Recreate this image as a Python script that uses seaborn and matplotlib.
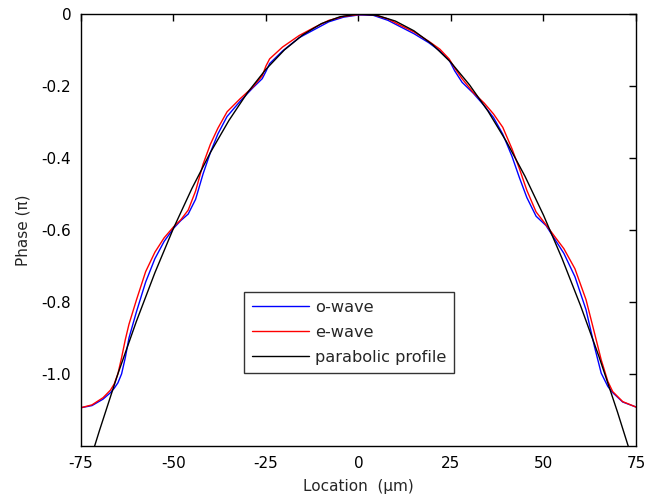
import numpy as np
import pandas as pd
import matplotlib
matplotlib.use("Agg")
import matplotlib.pyplot as plt
import seaborn as sns

# ------------------ Daten ------------------
location = [-75, -72, -69, -67, -66, -65, -64, -63, -62, -60, -57.5, -55, -52.5, -50, -48,
            -46, -44, -43, -42, -40, -38, -35.5, -32, -28.5, -26, -25, -24, -20.5, -16, -12, -8,
            -4, 0, 4, 8, 11, 15, 19, 22, 24.5, 26, 28, 31, 34, 36.5, 39, 41.5, 43.5, 45.5,
            48, 50.7, 53, 55.5, 58.5, 61.5, 63.8, 65.6, 67.4, 68.7, 71.4, 75]

o_wave = [-1.094, -1.088, -1.070, -1.052, -1.040, -1.025, -1.000, -0.955, -0.900, -0.828,
          -0.745, -0.680, -0.632, -0.596, -0.574, -0.556, -0.515, -0.480, -0.445, -0.385, -0.334,
          -0.285, -0.243, -0.205, -0.180, -0.160, -0.138, -0.103, -0.066, -0.044, -0.022,
          -0.009, -0.003, -0.004, -0.018, -0.034, -0.055, -0.080, -0.103, -0.128, -0.158,
          -0.190, -0.220, -0.255, -0.288, -0.334, -0.396, -0.455, -0.510, -0.562, -0.588,
          -0.625, -0.665, -0.730, -0.822, -0.925, -0.998, -1.035, -1.052, -1.078, -1.092]

e_wave = [-1.094, -1.086, -1.066, -1.045, -1.028, -1.000, -0.955, -0.905, -0.862, -0.795,
          -0.716, -0.662, -0.622, -0.592, -0.572, -0.545, -0.492, -0.455, -0.418, -0.362, -0.318,
          -0.272, -0.236, -0.203, -0.172, -0.145, -0.125, -0.092, -0.060, -0.038, -0.018,
          -0.007, -0.002, -0.002, -0.014, -0.030, -0.050, -0.076, -0.098, -0.125, -0.150,
          -0.180, -0.218, -0.248, -0.278, -0.315, -0.375, -0.430, -0.490, -0.550, -0.586,
          -0.618, -0.652, -0.708, -0.794, -0.887, -0.961, -1.021, -1.049, -1.077, -1.092]

parab_location = [-72, -70, -65, -60, -55, -50, -45, -40, -35, -30, -25, -20, -15, -10, -5,
                  0, 5, 10, 15, 20, 25, 30, 35, 40, 45, 50, 55, 60, 65, 70, 73]
parab_phase = [-1.224, -1.158, -1.000, -0.854, -0.719, -0.596, -0.485, -0.385, -0.296,
               -0.219, -0.154, -0.100, -0.058, -0.027, -0.008, 0.000, -0.004, -0.020,
               -0.047, -0.085, -0.135, -0.197, -0.270, -0.355, -0.451, -0.559, -0.679,
               -0.810, -0.952, -1.106, -1.204]

x_ticks = [-75, -50, -25, 0, 25, 50, 75]
y_ticks = [0, -0.2, -0.4, -0.6, -0.8, -1.0]
y_ticklabels = ['0', '-0.2', '-0.4', '-0.6', '-0.8', '-1.0']

# ------------------ Plot ------------------
sns.set_theme(style="white")
plt.rcParams['font.family'] = ['DejaVu Sans']
plt.rcParams['axes.unicode_minus'] = False

fig = plt.figure(figsize=(6.47, 4.96), dpi=100)
ax = fig.add_axes([0.125, 0.101, 0.858, 0.871])

df_waves = pd.DataFrame({'Location': location, 'o-wave': o_wave, 'e-wave': e_wave})
df_par = pd.DataFrame({'Location': parab_location, 'Phase': parab_phase})

sns.lineplot(data=df_waves, x='Location', y='o-wave', color='blue', lw=1, label='o-wave', ax=ax)
sns.lineplot(data=df_waves, x='Location', y='e-wave', color='red', lw=1, label='e-wave', ax=ax)
sns.lineplot(data=df_par, x='Location', y='Phase', color='black', lw=1, label='parabolic profile', ax=ax)

ax.set_xlim(-75, 75)
ax.set_ylim(-1.2, 0)
ax.set_xticks(x_ticks)
ax.set_xticklabels([str(t) for t in x_ticks])
ax.set_yticks(y_ticks)
ax.set_yticklabels(y_ticklabels)
ax.tick_params(direction='in', length=5, width=1, top=True, right=True,
               labelsize=11, colors='black', pad=7)
for sp in ax.spines.values():
    sp.set_color('black')
    sp.set_linewidth(1)

ax.set_xlabel('Location  (μm)', fontsize=11, labelpad=6)
ax.set_ylabel('Phase (π)', fontsize=11, labelpad=8)

leg = ax.legend(loc='lower left', bbox_to_anchor=(0.294, 0.169), borderaxespad=0,
                fontsize=11.6, frameon=True, fancybox=False, edgecolor='black',
                handlelength=3.5, handletextpad=0.4, labelspacing=0.62, borderpad=0.5)
leg.get_frame().set_linewidth(1)

fig.savefig('out.png', dpi=100)
